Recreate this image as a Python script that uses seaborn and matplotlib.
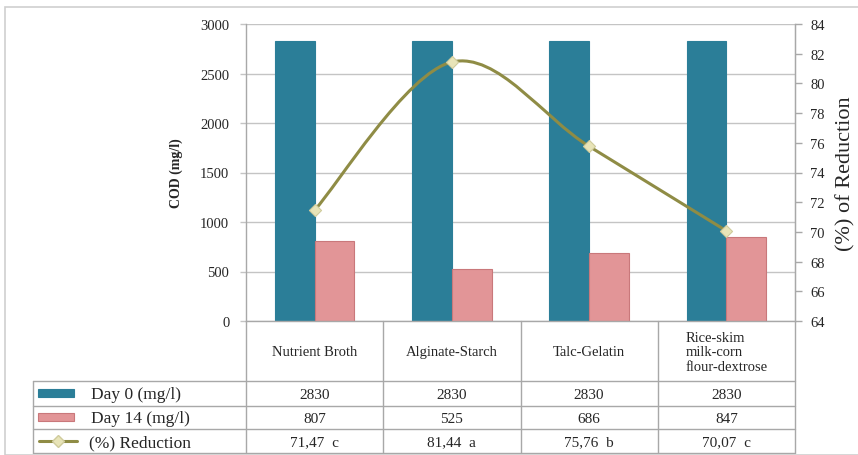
import numpy as np
import pandas as pd
import matplotlib
matplotlib.use('Agg')
import matplotlib.pyplot as plt
from matplotlib.path import Path
from matplotlib.patches import PathPatch, Rectangle
from matplotlib.lines import Line2D
import seaborn as sns

# data
categories = ['Nutrient Broth', 'Alginate-Starch', 'Talc-Gelatin',
              'Rice-skim\nmilk-corn\nflour-dextrose']
day0 = [2830, 2830, 2830, 2830]
day14 = [807, 525, 686, 847]
reduction = [71.47, 81.44, 75.76, 70.07]
letters = ['c', 'a', 'b', 'c']
series_names = ['Day 0 (mg/l)', 'Day 14 (mg/l)']
line_name = '(%) Reduction'

teal = '#2b7e98'
pink = '#e29597'
pink_edge = '#c9787b'
olive = '#8f8c45'
marker_fc = '#e8e4b8'
grid_c = '#c4c4c4'
line_c = '#a8a8a8'

sns.set_style('white')
plt.rcParams['font.family'] = ['Liberation Serif', 'DejaVu Serif']

W, H = 858, 456
fig = plt.figure(figsize=(W / 100, H / 100), dpi=100)

# outer frame
fig.patches.append(Rectangle((5 / W, 0), 1, 1 - 8 / H, transform=fig.transFigure,
                             fill=False, ec='#cfcfcf', lw=1.2))

# plot area (pixels): x 246..795, y 25..322
L, R, T, B = 246, 795, 25, 322
ax = fig.add_axes([L / W, 1 - B / H, (R - L) / W, (B - T) / H])

df = pd.DataFrame({
    'cat': categories * 2,
    'series': [series_names[0]] * 4 + [series_names[1]] * 4,
    'cod': day0 + day14,
})
sns.barplot(data=df, x='cat', y='cod', hue='series', palette=[teal, pink],
            width=0.58, saturation=1, legend=False, ax=ax)
for cont, ec in zip(ax.containers, [teal, pink_edge]):
    for p in cont:
        p.set_edgecolor(ec)
        p.set_linewidth(0.8)

ax.set_xlim(-0.5, 3.5)
ax.set_ylim(0, 3000)
ax.set_yticks(range(0, 3001, 500))
ax.set_xticks([])
ax.set_xlabel('')
ax.set_ylabel('COD (mg/l)', fontsize=10, fontweight='bold', labelpad=12)
ax.yaxis.grid(True, color=grid_c, lw=1)
ax.set_axisbelow(True)
ax.tick_params(axis='y', left=True, length=4, width=1, color=grid_c, labelsize=10.5, pad=8)
for s in ['top']:
    ax.spines[s].set_visible(False)
for s in ['left', 'bottom', 'right']:
    ax.spines[s].set_color(line_c)
    ax.spines[s].set_linewidth(1)

# secondary axis with smoothed line
ax2 = ax.twinx()
ax2.set_ylim(64, 84)
ax2.set_yticks(range(64, 85, 2))
ax2.tick_params(axis='y', right=True, length=5, width=1, color=line_c, labelsize=10.5, pad=6)
for s in ['top', 'left', 'bottom']:
    ax2.spines[s].set_visible(False)
ax2.spines['right'].set_color(line_c)
ax2.set_ylabel('(%) of Reduction', fontsize=16, labelpad=8)

xs = np.arange(len(reduction), dtype=float)
ys = np.array(reduction, dtype=float)
pts = np.column_stack([xs, ys])
ext = np.vstack([pts[0], pts, pts[-1]])
verts = [pts[0]]
codes = [Path.MOVETO]
for i in range(len(pts) - 1):
    p0, p1, p2, p3 = ext[i], ext[i + 1], ext[i + 2], ext[i + 3]
    c1 = p1 + (p2 - p0) / 6
    c2 = p2 - (p3 - p1) / 6
    verts += [c1, c2, p2]
    codes += [Path.CURVE4] * 3
ax2.add_patch(PathPatch(Path(verts, codes), fill=False, ec=olive, lw=2.2, zorder=3))
sns.scatterplot(x=xs, y=ys, marker='D', s=38, color=marker_fc, edgecolor='#cfcb9c',
                linewidth=0.8, zorder=4, ax=ax2)
ax2.set_xlim(-0.5, 3.5)

# data table below (pixel layout)
tax = fig.add_axes([33 / W, 0, (R - 33) / W, 456 / H])
tax.set_xlim(33, R)
tax.set_ylim(456, 0)
tax.axis('off')
rows = [322, 382, 407, 430, 454]
colw = (R - L) / 4
cols = [L + colw * i for i in range(5)]
lk = dict(color=line_c, lw=1, clip_on=False)
# header row verticals
for x in cols:
    tax.add_line(Line2D([x, x], [rows[0], rows[-1]], **lk))
tax.add_line(Line2D([33, 33], [rows[1], rows[-1]], **lk))
for y in rows[1:]:
    tax.add_line(Line2D([33, R], [y, y], **lk))

for i, c in enumerate(categories):
    cx = cols[i] + colw / 2
    tax.text(cx, (rows[0] + rows[1]) / 2 + 1, c, ha='center', va='center',
             multialignment='left', fontsize=10.5, linespacing=1.15)
    tax.text(cx, (rows[1] + rows[2]) / 2 + 1, str(day0[i]), ha='center', va='center', fontsize=11)
    tax.text(cx, (rows[2] + rows[3]) / 2 + 1, str(day14[i]), ha='center', va='center', fontsize=11)
    val = f'{reduction[i]:.2f}'.replace('.', ',')
    tax.text(cx, (rows[3] + rows[4]) / 2 + 1, f'{val}  {letters[i]}', ha='center', va='center',
             fontsize=11)

# legend keys
for j, (name, col, ec) in enumerate(zip(series_names, [teal, pink], [teal, pink_edge])):
    yc = (rows[j + 1] + rows[j + 2]) / 2
    tax.add_patch(Rectangle((38, yc - 4), 36, 8, fc=col, ec=ec, lw=0.8))
    tax.text(91, yc + 1, name, ha='left', va='center', fontsize=12.5)
yc = (rows[3] + rows[4]) / 2
tax.add_line(Line2D([39, 77], [yc, yc], color=olive, lw=2.2))
tax.add_line(Line2D([58], [yc], marker='D', ms=6, mfc=marker_fc, mec='#cfcb9c', lw=0))
tax.text(89, yc + 1, line_name, ha='left', va='center', fontsize=12.5)

fig.savefig('out.png', dpi=100)
